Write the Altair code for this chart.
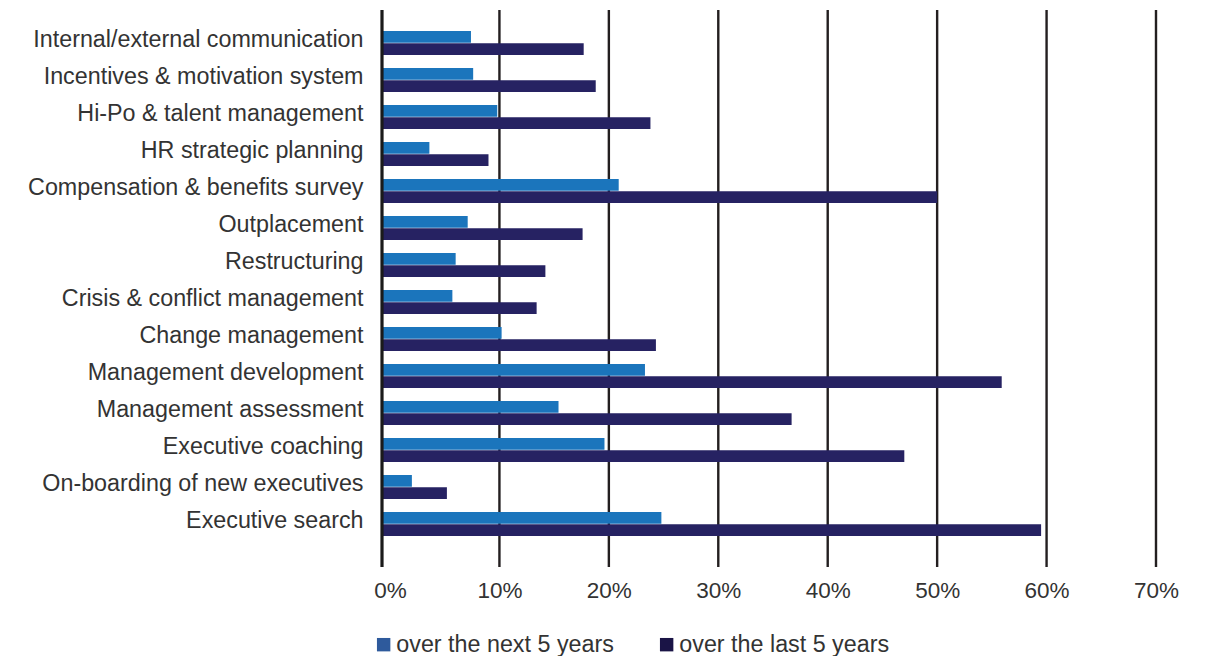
import altair as alt
import pandas as pd

# Share of assignments by service area (%)
categories = [
    "Internal/external communication",
    "Incentives & motivation system",
    "Hi-Po & talent management",
    "HR strategic planning",
    "Compensation & benefits survey",
    "Outplacement",
    "Restructuring",
    "Crisis & conflict management",
    "Change management",
    "Management development",
    "Management assessment",
    "Executive coaching",
    "On-boarding of new executives",
    "Executive search",
]
next_5_years = [7.4, 7.6, 9.8, 3.6, 20.9, 7.1, 6.0, 5.7, 10.2, 23.3, 15.4, 19.6, 2.0, 24.8]
last_5_years = [17.7, 18.8, 23.8, 9.0, 50.0, 17.6, 14.2, 13.4, 24.3, 55.9, 36.7, 47.0, 5.2, 59.5]

series = ["over the next 5 years", "over the last 5 years"]
bar_colors = ["#1b75bc", "#262262"]
legend_colors = ["#2e5a9c", "#1a1446"]
tick_values = [0, 10, 20, 30, 40, 50, 60, 70]

rows = []
for cat, a, b in zip(categories, next_5_years, last_5_years):
    rows.append({"area": cat, "period": series[0], "share": a})
    rows.append({"area": cat, "period": series[1], "share": b})
df = pd.DataFrame(rows)
grid_df = pd.DataFrame({"t": tick_values})

# the category axis line sits a little left of the 0% gridline position;
# bars grow out of that axis line
axis_start = -0.731
x_scale = alt.Scale(domain=[axis_start, 70], nice=False, zero=False)

x_axis = alt.Axis(
    values=tick_values,
    labelExpr="datum.value + '%'",
    domain=False,
    ticks=False,
    grid=False,
    labelFlush=False,
    labelPadding=22,
    labelFontSize=22.5,
    labelColor="#333333",
    title=None,
)
y_enc = alt.Y(
    "area:N",
    sort=categories,
    scale=alt.Scale(paddingInner=0.351, paddingOuter=0.568),
    axis=alt.Axis(
        domain=False,
        ticks=False,
        labelPadding=19,
        labelFontSize=23.3,
        labelColor="#333333",
        labelLimit=0,
        labelOffset=-3,
        title=None,
    ),
)

grid = alt.Chart(grid_df).transform_filter("datum.t > 0").mark_rule(
    color="#231f20", strokeWidth=2.4
).encode(
    x=alt.X("t:Q", scale=x_scale, axis=x_axis),
    y=alt.value(0),
    y2=alt.value(557),
)

bars = alt.Chart(df).mark_bar().encode(
    x=alt.X("share:Q", scale=x_scale),
    x2=alt.datum(axis_start),
    y=y_enc,
    yOffset=alt.YOffset("period:N", sort=series, scale=alt.Scale(paddingInner=0.04)),
    color=alt.Color(
        "period:N",
        sort=series,
        scale=alt.Scale(domain=series, range=bar_colors),
        legend=None,
    ),
)

zero_line = alt.Chart(grid_df).transform_filter("datum.t == 0").mark_rule(
    color="#1a1a1a", strokeWidth=3.2
).encode(x=alt.value(0), y=alt.value(0), y2=alt.value(557))

key = alt.Chart(df).mark_square(opacity=0, size=1).encode(
    x=alt.X("share:Q", scale=x_scale),
    y=alt.Y("area:N", sort=categories),
    color=alt.Color(
        "period:N",
        sort=series,
        scale=alt.Scale(domain=series, range=legend_colors),
        legend=alt.Legend(
            title=None,
            orient="none",
            direction="horizontal",
            legendX=-10,
            legendY=623,
            symbolType="square",
            symbolSize=180,
            symbolOpacity=1,
            symbolStrokeWidth=0,
            labelFontSize=23.3,
            labelColor="#333333",
            labelOffset=1,
            columnPadding=41,
            padding=0,
            labelLimit=0,
        ),
    ),
)

chart = (
    alt.layer(grid, bars, zero_line, key)
    .resolve_scale(color="independent")
    .properties(
        width=774,
        height=547,
        autosize="none",
        padding={"left": 382, "top": 10, "right": 53, "bottom": 99},
    )
    .configure(font="Liberation Sans")
    .configure_view(stroke=None)
)

chart.save("out.html", embed_options={"renderer": "svg", "actions": False})
